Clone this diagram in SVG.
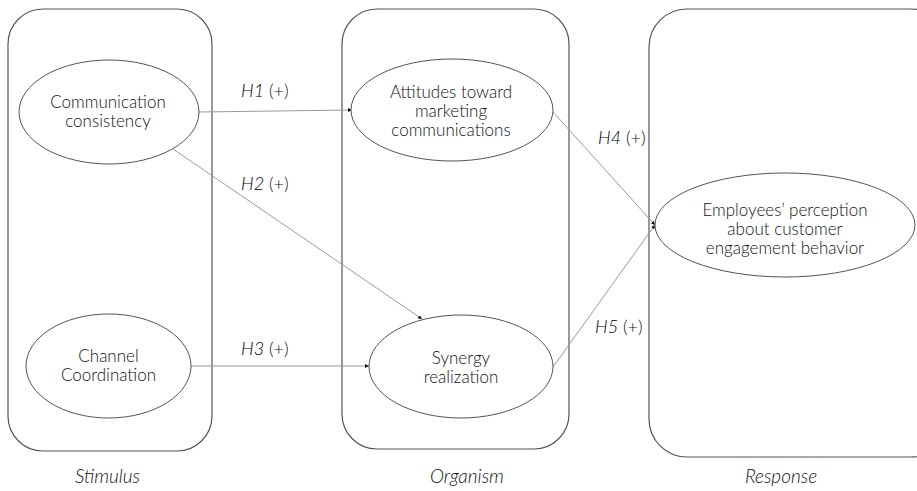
<svg xmlns="http://www.w3.org/2000/svg" width="917" height="491" viewBox="0 0 917 491">
<defs>
<style>
.box{fill:none;stroke:#555;stroke-width:1.2}
.node ellipse{fill:#fff;stroke:#555;stroke-width:1}
.t{font-family:Lato,"Liberation Sans",sans-serif;font-size:17px;font-weight:300;fill:#111;text-anchor:middle}
.lab{font-family:Lato,"Liberation Sans",sans-serif;font-size:18px;font-weight:300;fill:#111}
.lab .i{font-style:italic;font-weight:300;fill:#000}
.cap{font-family:Lato,"Liberation Sans",sans-serif;font-size:19px;font-weight:300;font-style:italic;fill:#111;text-anchor:middle}
.edge{stroke:#999;stroke-width:1;fill:none;marker-end:url(#ah)}
</style>
<marker id="ah" viewBox="0 0 4 4" refX="4" refY="2" markerWidth="4" markerHeight="4" markerUnits="userSpaceOnUse" orient="auto">
<path d="M0,0 L4,2 L0,4 z" fill="#111"/>
</marker>
</defs>
<rect width="917" height="491" fill="#fff"/>
<g id="stages">
<rect class="box" x="8" y="9" width="204" height="442" rx="35" ry="35"/>
<rect class="box" x="342" y="9" width="227" height="440" rx="35" ry="35"/>
<rect class="box" x="649" y="9" width="300" height="448" rx="38" ry="38"/>
</g>
<g id="connectors">
<line class="edge" x1="199" y1="112" x2="352" y2="110"/>
<line class="edge" x1="173" y1="149" x2="422" y2="319"/>
<line class="edge" x1="191" y1="366" x2="369" y2="366"/>
<line class="edge" x1="553" y1="112" x2="655" y2="225"/>
<line class="edge" x1="553" y1="367" x2="655" y2="225"/>
</g>
<g id="n-cc" class="node">
<ellipse cx="109" cy="112" rx="90" ry="52"/>
<text class="t" x="108" y="108">Communication</text>
<text class="t" x="108" y="127">consistency</text>
</g>
<g id="n-ch" class="node">
<ellipse cx="108.5" cy="366" rx="82.5" ry="52"/>
<text class="t" x="108.5" y="362">Channel</text>
<text class="t" x="108.5" y="381">Coordination</text>
</g>
<g id="n-att" class="node">
<ellipse cx="452" cy="110" rx="101" ry="51"/>
<text class="t" x="451" y="98">Attitudes toward</text>
<text class="t" x="451" y="117">marketing</text>
<text class="t" x="451" y="136">communications</text>
</g>
<g id="n-syn" class="node">
<ellipse cx="461" cy="366.5" rx="92" ry="51.5"/>
<text class="t" x="461" y="364">Synergy</text>
<text class="t" x="461" y="383">realization</text>
</g>
<g id="n-emp" class="node">
<ellipse cx="785" cy="225" rx="130" ry="52"/>
<text class="t" x="785" y="216">Employees’ perception</text>
<text class="t" x="785" y="235">about customer</text>
<text class="t" x="785" y="254">engagement behavior</text>
</g>
<g id="labels">
<text class="lab" x="241" y="97"><tspan class="i">H1</tspan> (+)</text>
<text class="lab" x="241" y="190"><tspan class="i">H2</tspan> (+)</text>
<text class="lab" x="241" y="355"><tspan class="i">H3</tspan> (+)</text>
<text class="lab" x="598" y="144"><tspan class="i">H4</tspan> (+)</text>
<text class="lab" x="595" y="333"><tspan class="i">H5</tspan> (+)</text>
</g>
<g id="captions">
<text class="cap" x="107.5" y="483">Stimulus</text>
<text class="cap" x="467" y="483">Organism</text>
<text class="cap" x="781" y="483">Response</text>
</g>
</svg>
